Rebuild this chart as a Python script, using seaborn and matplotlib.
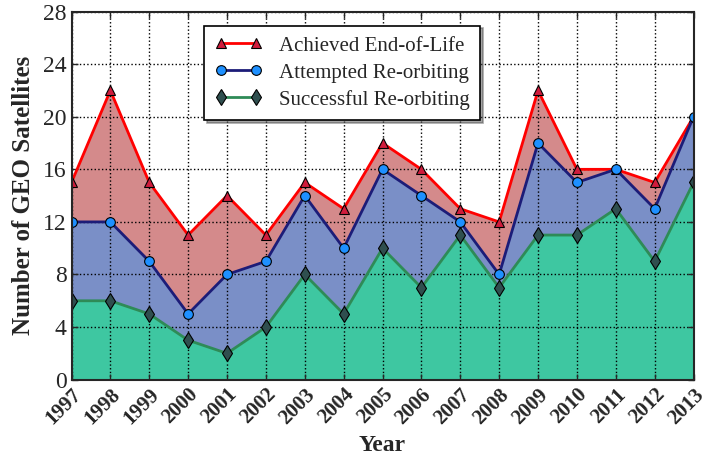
import matplotlib
matplotlib.use('Agg')
import matplotlib.pyplot as plt
import seaborn as sns
import pandas as pd

years = list(range(1997, 2014))
achieved = [15, 22, 15, 11, 14, 11, 15, 13, 18, 16, 13, 12, 22, 16, 16, 15, 20]
attempted = [12, 12, 9, 5, 8, 9, 14, 10, 16, 14, 12, 8, 18, 15, 16, 13, 20]
successful = [6, 6, 5, 3, 2, 4, 8, 5, 10, 7, 11, 7, 11, 11, 13, 9, 15]

df = pd.DataFrame({'Year': years, 'Achieved': achieved,
                   'Attempted': attempted, 'Successful': successful})

sns.set_style('white')
plt.rcParams['font.family'] = ['Liberation Serif', 'DejaVu Serif']

fig, ax = plt.subplots(figsize=(7.15, 4.63), dpi=100)

# filled bands
ax.fill_between(df['Year'], df['Attempted'], df['Achieved'], color='#d48a8b', lw=0, zorder=1)
ax.fill_between(df['Year'], df['Successful'], df['Attempted'], color='#7a8fc7', lw=0, zorder=1)
ax.fill_between(df['Year'], 0, df['Successful'], color='#3ec7a1', lw=0, zorder=1)

sns.lineplot(data=df, x='Year', y='Achieved', ax=ax, color='red', lw=2,
             marker='^', markersize=7, markerfacecolor='#d01c3c', markeredgecolor='black',
             markeredgewidth=0.8, label='Achieved End-of-Life', zorder=4)
sns.lineplot(data=df, x='Year', y='Attempted', ax=ax, color='#1c1c78', lw=2,
             marker='o', markersize=7, markerfacecolor='#1e90ff', markeredgecolor='black',
             markeredgewidth=0.8, label='Attempted Re-orbiting', zorder=4)
sns.lineplot(data=df, x='Year', y='Successful', ax=ax, color='#2e8b57', lw=2,
             marker='d', markersize=8, markerfacecolor='#2f4f4f', markeredgecolor='black',
             markeredgewidth=0.8, label='Successful Re-orbiting', zorder=4)

ax.set_xlim(1997, 2013)
ax.set_ylim(0, 28)
ax.set_yticks(range(0, 29, 4))
ax.set_xticks(years)
ax.set_xticklabels([str(y) for y in years], rotation=45, fontweight='bold', fontsize=15,
                   ha='right', rotation_mode='anchor')
ax.tick_params(axis='y', labelsize=17)
ax.tick_params(direction='in', length=4, width=1, top=True, right=True, bottom=True, left=True)
ax.grid(True, linestyle=':', color='black', lw=1, zorder=2)
ax.set_axisbelow(False)
for s in ax.spines.values():
    s.set_linewidth(1.5)
    s.set_zorder(5)

ax.set_xlabel('Year', fontsize=17, fontweight='bold', labelpad=5)
ax.set_ylabel('Number of GEO Satellites', fontsize=18, fontweight='bold', labelpad=6)

leg = ax.legend(loc='upper center', bbox_to_anchor=(0.435, 0.99), fontsize=15,
                fancybox=False, shadow=True, framealpha=1, edgecolor='black',
                handlelength=2.3, numpoints=2, borderpad=0.5, labelspacing=0.35,
                handletextpad=0.8)
leg.get_frame().set_linewidth(1.2)
leg.set_zorder(6)

plt.subplots_adjust(left=0.1, right=0.97, top=0.975, bottom=0.18)
plt.savefig('out.png', dpi=100)
